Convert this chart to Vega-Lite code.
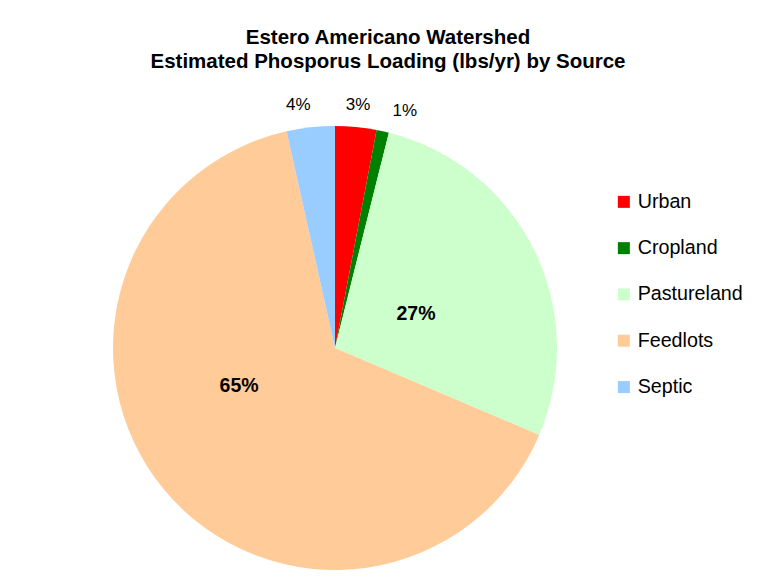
{
  "$schema": "https://vega.github.io/schema/vega-lite/v6.json",
  "width": 444,
  "height": 444,
  "autosize": {"type": "none"},
  "padding": {"left": 113, "top": 126, "right": 209, "bottom": 14},
  "background": "white",
  "config": {"view": {"stroke": null}, "font": "Liberation Sans"},
  "title": {
    "text": ["Estero Americano Watershed", "Estimated Phosporus Loading (lbs/yr) by Source"],
    "font": "Liberation Sans",
    "fontSize": 20.5,
    "fontWeight": "bold",
    "lineHeight": 23.5,
    "anchor": "middle",
    "frame": "group",
    "dx": 53,
    "offset": 20,
    "color": "black"
  },
  "data": {
    "values": [
      {"category": "Urban", "value": 3.0, "idx": 1, "label": "3%"},
      {"category": "Cropland", "value": 0.9, "idx": 2, "label": "1%"},
      {"category": "Pastureland", "value": 27.5, "idx": 3, "label": "27%"},
      {"category": "Feedlots", "value": 65.1, "idx": 4, "label": "65%"},
      {"category": "Septic", "value": 3.5, "idx": 5, "label": "4%"}
    ]
  },
  "encoding": {
    "theta": {"field": "value", "type": "quantitative", "stack": true},
    "order": {"field": "idx", "type": "quantitative"}
  },
  "layer": [
    {
      "mark": {"type": "arc", "outerRadius": 222},
      "encoding": {
        "color": {
          "field": "category",
          "type": "nominal",
          "scale": {
            "domain": ["Urban", "Cropland", "Pastureland", "Feedlots", "Septic"],
            "range": ["#FF0000", "#008000", "#CCFFCC", "#FFCC99", "#99CCFF"]
          },
          "legend": {
            "title": null,
            "orient": "none",
            "legendX": 501,
            "legendY": 66,
            "padding": 0,
            "symbolType": "square",
            "symbolSize": 144,
            "symbolStrokeWidth": 0,
            "labelFont": "Liberation Sans",
            "labelFontSize": 19.7,
            "labelColor": "black",
            "labelOffset": 4,
            "rowPadding": 25.3
          }
        }
      }
    },
    {
      "mark": {"type": "text", "radius": 244, "font": "Liberation Sans", "fontSize": 17, "color": "black"},
      "encoding": {
        "text": {"condition": {"test": "datum.category === 'Urban'", "field": "label"}, "value": ""}
      }
    },
    {
      "mark": {"type": "text", "radius": 247, "thetaOffset": 0.07, "font": "Liberation Sans", "fontSize": 17, "color": "black"},
      "encoding": {
        "text": {"condition": {"test": "datum.category === 'Cropland'", "field": "label"}, "value": ""}
      }
    },
    {
      "mark": {"type": "text", "radius": 246, "thetaOffset": -0.04, "font": "Liberation Sans", "fontSize": 17, "color": "black"},
      "encoding": {
        "text": {"condition": {"test": "datum.category === 'Septic'", "field": "label"}, "value": ""}
      }
    },
    {
      "mark": {"type": "text", "radius": 88, "thetaOffset": 0.06, "font": "Liberation Sans", "fontSize": 19.5, "fontWeight": "bold", "color": "black"},
      "encoding": {
        "text": {"condition": {"test": "datum.category === 'Pastureland'", "field": "label"}, "value": ""}
      }
    },
    {
      "mark": {"type": "text", "radius": 103, "thetaOffset": 0.32, "font": "Liberation Sans", "fontSize": 19.5, "fontWeight": "bold", "color": "black"},
      "encoding": {
        "text": {"condition": {"test": "datum.category === 'Feedlots'", "field": "label"}, "value": ""}
      }
    }
  ]
}
